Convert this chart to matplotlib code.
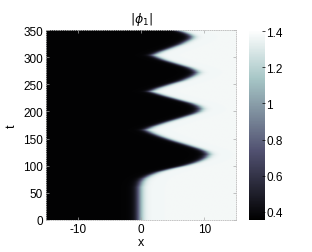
import numpy as np
import matplotlib.pyplot as plt

plt.rcParams['font.family'] = ['Liberation Sans', 'DejaVu Sans']
plt.rcParams['axes.unicode_minus'] = False

# front position (x where field jumps from low to high), per t
t_front = [0, 60, 70, 76, 82, 88, 94, 100, 105, 110, 115, 121, 126, 131,
           138, 146, 154, 160, 166, 172, 180, 188, 196, 200, 205, 210, 215,
           222, 229, 234, 237, 243, 250, 257, 264, 268, 272, 276, 281,
           288, 295, 300, 304, 310, 317, 324, 330, 334, 338, 342, 346, 350]
x_front = [-0.3, -0.3, 0.0, 0.4, 1.3, 2.6, 4.6, 6.9, 8.4, 9.5, 10.2, 10.6, 10.2, 9.2,
           7.3, 5.0, 3.0, 1.7, 0.7, 1.8, 3.9, 6.2, 8.4, 9.1, 9.4, 9.0, 8.0,
           5.8, 3.6, 2.2, 1.4, 2.6, 4.5, 6.5, 7.9, 8.5, 8.8, 8.5, 7.6,
           5.6, 3.6, 2.5, 1.8, 2.9, 4.6, 6.2, 7.2, 7.8, 8.0, 7.6, 6.8, 5.6]
low_val = 0.37
high_val = 1.37
edge_width = 0.75
cbar_ticks = [0.4, 0.6, 0.8, 1.0, 1.2, 1.4]
cbar_labels = ['0.4', '0.6', '0.8', '1', '1.2', '1.4']

x = np.linspace(-15, 15, 400)
t = np.linspace(0, 350, 400)
X, T = np.meshgrid(x, t)
front = np.interp(T, t_front, x_front)
phi = low_val + (high_val - low_val) * 0.5 * (1 + np.tanh((X - front) / edge_width))

fig = plt.figure(figsize=(3.12, 2.53), dpi=100)
ax = fig.add_axes([46 / 312, 32 / 253, 190 / 312, 190 / 253])
im = ax.imshow(phi, origin='lower', extent=[-15, 15, 0, 350], aspect='auto',
               cmap='bone', vmin=0.354, vmax=1.407, interpolation='bilinear')
ax.set_xticks([-10, 0, 10])
ax.set_yticks(np.arange(0, 351, 50))
ax.tick_params(direction='in', length=2, width=0.5, color='#aaaaaa', labelsize=8.5,
               top=True, right=True, pad=2)
for s in ax.spines.values():
    s.set_color('#bbbbbb')
    s.set_linewidth(0.6)
    s.set_linestyle(':')
ax.set_xlabel('x', fontsize=9, labelpad=1)
ax.set_ylabel('t', fontsize=9, labelpad=4)
ax.set_title(r'$|\phi_1|$', fontsize=9, pad=6)

cax = fig.add_axes([249 / 312, 32 / 253, 16 / 312, 190 / 253])
cb = fig.colorbar(im, cax=cax)
cb.set_ticks(cbar_ticks)
cb.set_ticklabels(cbar_labels)
cb.outline.set_visible(False)
cax.tick_params(direction='in', length=2, width=0.5, labelsize=8.5, pad=1)

fig.savefig('out.png', dpi=100)
